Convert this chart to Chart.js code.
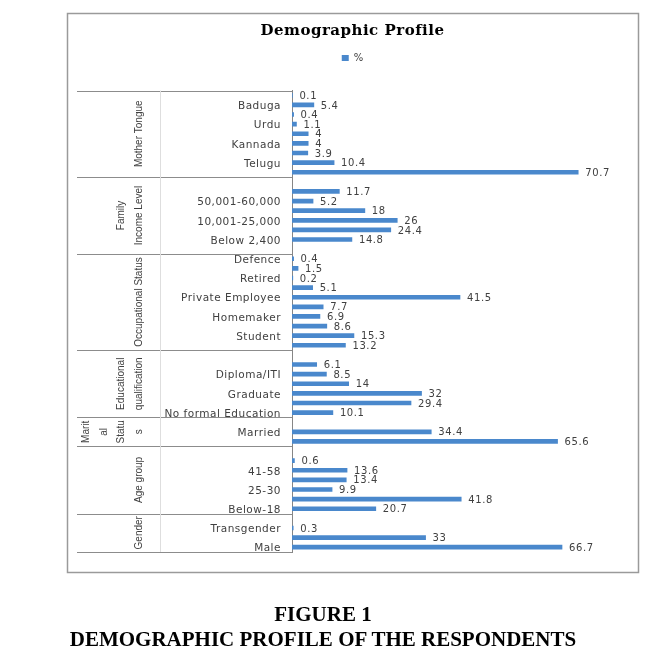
<!DOCTYPE html>
<html>
<head>
<meta charset="utf-8">
<script src="https://cdn.jsdelivr.net/npm/chart.js@4.4.1/dist/chart.umd.min.js"></script>
<style>
    html, body { margin: 0; padding: 0; background: #fff; }
    #chart-box { position: absolute; left: 0; top: 0; width: 654px; height: 655px; }
    .caption {
        position: absolute; left: 0; width: 646px; text-align: center;
        font: bold 21px "Liberation Serif", "Times New Roman", serif; color: #000;
    }
</style>
</head>
<body>
<div id="chart-box"><canvas id="demographic-graph"></canvas></div>
<div class="caption" style="top:602px">FIGURE 1</div>
<div class="caption" style="top:627px">DEMOGRAPHIC PROFILE OF THE RESPONDENTS</div>

<script>
// Rows top to bottom; '' = row whose label is skipped, null = empty spacer row
const motherTongueLabels = ['', 'Baduga', '', 'Urdu', '', 'Kannada', '', 'Telugu', ''];
const motherTongueValues = [0.1, 5.4, 0.4, 1.1, 4, 4, 3.9, 10.4, 70.7];

const incomeLabels = ['', '', '50,001-60,000', '', '10,001-25,000', '', 'Below 2,400', ''];
const incomeValues = [null, 11.7, 5.2, 18, 26, 24.4, 14.8, null];

const occupationLabels = ['Defence', '', 'Retired', '', 'Private Employee', '', 'Homemaker', '', 'Student', ''];
const occupationValues = [0.4, 1.5, 0.2, 5.1, 41.5, 7.7, 6.9, 8.6, 15.3, 13.2];

const educationLabels = ['', '', 'Diploma/ITI', '', 'Graduate', '', 'No formal Education'];
const educationValues = [null, 6.1, 8.5, 14, 32, 29.4, 10.1];

const maritalLabels = ['', 'Married', ''];
const maritalValues = [null, 34.4, 65.6];

const ageLabels = ['', '', '41-58', '', '25-30', '', 'Below-18'];
const ageValues = [null, 0.6, 13.6, 13.4, 9.9, 41.8, 20.7];

const genderLabels = ['', 'Transgender', '', 'Male'];
const genderValues = [null, 0.3, 33, 66.7];

const groups = [
    { title: ['Mother Tongue'], labels: motherTongueLabels, values: motherTongueValues },
    { title: ['Family', 'Income Level'], labels: incomeLabels, values: incomeValues },
    { title: ['Occupational Status'], labels: occupationLabels, values: occupationValues },
    { title: ['Educational', 'qualification'], labels: educationLabels, values: educationValues },
    { title: ['Marit', 'al', 'Statu', 's'], labels: maritalLabels, values: maritalValues },
    { title: ['Age group'], labels: ageLabels, values: ageValues },
    { title: ['Gender'], labels: genderLabels, values: genderValues }
];

let categories = [];
let percentValues = [];
const groupRanges = [];
groups.forEach(g => {
    groupRanges.push({ start: categories.length, end: categories.length + g.labels.length, title: g.title });
    categories = categories.concat(g.labels);
    percentValues = percentValues.concat(g.values);
});

const GROUP_LEFT = 77;
const AXIS_X = 292;

// outer frame of the figure, and the wide-ish text spacing of the original
const chartFrame = {
    id: 'chartFrame',
    beforeDraw(chart) {
        const ctx = chart.ctx;
        ctx.fillStyle = '#fff';
        ctx.fillRect(0, 0, chart.width, chart.height);
        ctx.strokeStyle = '#9a9a9a';
        ctx.lineWidth = 1.5;
        ctx.strokeRect(67.5, 13.5, 571, 559);
        ctx.letterSpacing = '0.5px';
    }
};

// group boxes + rotated group names left of the category labels
const groupAxis = {
    id: 'groupAxis',
    afterDraw(chart) {
        const { ctx, chartArea } = chart;
        const y = chart.scales.y;
        const edge = i => {
            if (i <= 0) return chartArea.top;
            if (i >= categories.length) return chartArea.bottom;
            return (y.getPixelForValue(i - 1) + y.getPixelForValue(i)) / 2;
        };
        ctx.save();
        ctx.letterSpacing = '0px';
        ctx.strokeStyle = '#8c8c8c';
        ctx.lineWidth = 1;
        groupRanges.forEach(r => {
            [r.start, r.end].forEach(i => {
                const py = Math.round(edge(i)) + 0.5;
                ctx.beginPath();
                ctx.moveTo(GROUP_LEFT, py);
                ctx.lineTo(chartArea.left, py);
                ctx.stroke();
            });
        });
        ctx.strokeStyle = '#dedede';
        ctx.beginPath();
        ctx.moveTo(160.5, chartArea.top);
        ctx.lineTo(160.5, chartArea.bottom);
        ctx.stroke();

        ctx.fillStyle = '#404040';
        ctx.font = '10px "Liberation Sans", Arial, sans-serif';
        ctx.textAlign = 'center';
        ctx.textBaseline = 'middle';
        groupRanges.forEach(r => {
            const cy = (edge(r.start) + edge(r.end)) / 2;
            const n = r.title.length;
            r.title.forEach((line, k) => {
                const cx = 139 - (n - 1 - k) * 17.5;
                ctx.save();
                ctx.translate(cx, cy);
                ctx.rotate(-Math.PI / 2);
                ctx.fillText(line, 0, 0);
                ctx.restore();
            });
        });
        ctx.restore();
    }
};

// value labels at the end of each bar
const barValueLabels = {
    id: 'barValueLabels',
    afterDatasetsDraw(chart) {
        const ctx = chart.ctx;
        const meta = chart.getDatasetMeta(0);
        ctx.save();
        ctx.font = '10px "DejaVu Sans", sans-serif';
        ctx.fillStyle = '#404040';
        ctx.textAlign = 'left';
        ctx.textBaseline = 'middle';
        ctx.letterSpacing = '0.6px';
        meta.data.forEach((bar, i) => {
            const v = percentValues[i];
            if (v === null) return;
            ctx.fillText(String(v), bar.x + 7, bar.y + 1);
        });
        ctx.restore();
    }
};

const demographicGraph = document.getElementById('demographic-graph').getContext('2d');

const demographicChart = new Chart(demographicGraph, {
    type: 'bar',
    data: {
        labels: categories,
        datasets: [{
            label: '%',
            data: percentValues,
            backgroundColor: '#4A88CC',
            borderWidth: 0,
            barThickness: 4
        }]
    },
    options: {
        indexAxis: 'y',
        responsive: true,
        maintainAspectRatio: false,
        animation: false,
        devicePixelRatio: 1,
        layout: {
            padding: { top: 10, left: GROUP_LEFT, right: 26, bottom: 103 }
        },
        plugins: {
            title: {
                display: true,
                text: 'Demographic Profile',
                color: '#000',
                font: { family: '"DejaVu Serif", serif', size: 15, weight: 'bold' },
                padding: { top: 12, bottom: 3 }
            },
            legend: {
                display: true,
                labels: {
                    boxWidth: 7,
                    boxHeight: 6,
                    padding: 10,
                    color: '#404040',
                    font: { family: '"DejaVu Sans", sans-serif', size: 10 }
                }
            },
            tooltip: { enabled: false }
        },
        scales: {
            x: {
                position: 'top',
                min: 0,
                max: 83,
                ticks: { display: false },
                grid: { display: false },
                border: { display: false },
                afterFit: s => { s.height = 17.5; }
            },
            y: {
                type: 'category',
                grid: { display: false, drawTicks: false },
                border: { display: true, color: '#868686', width: 1 },
                ticks: {
                    autoSkip: false,
                    padding: 11,
                    labelOffset: 1.5,
                    color: '#404040',
                    font: { family: '"DejaVu Sans", sans-serif', size: 10.5 }
                },
                afterFit: s => { s.width = AXIS_X - GROUP_LEFT; }
            }
        }
    },
    plugins: [chartFrame, groupAxis, barValueLabels]
});
</script>
</body>
</html>
